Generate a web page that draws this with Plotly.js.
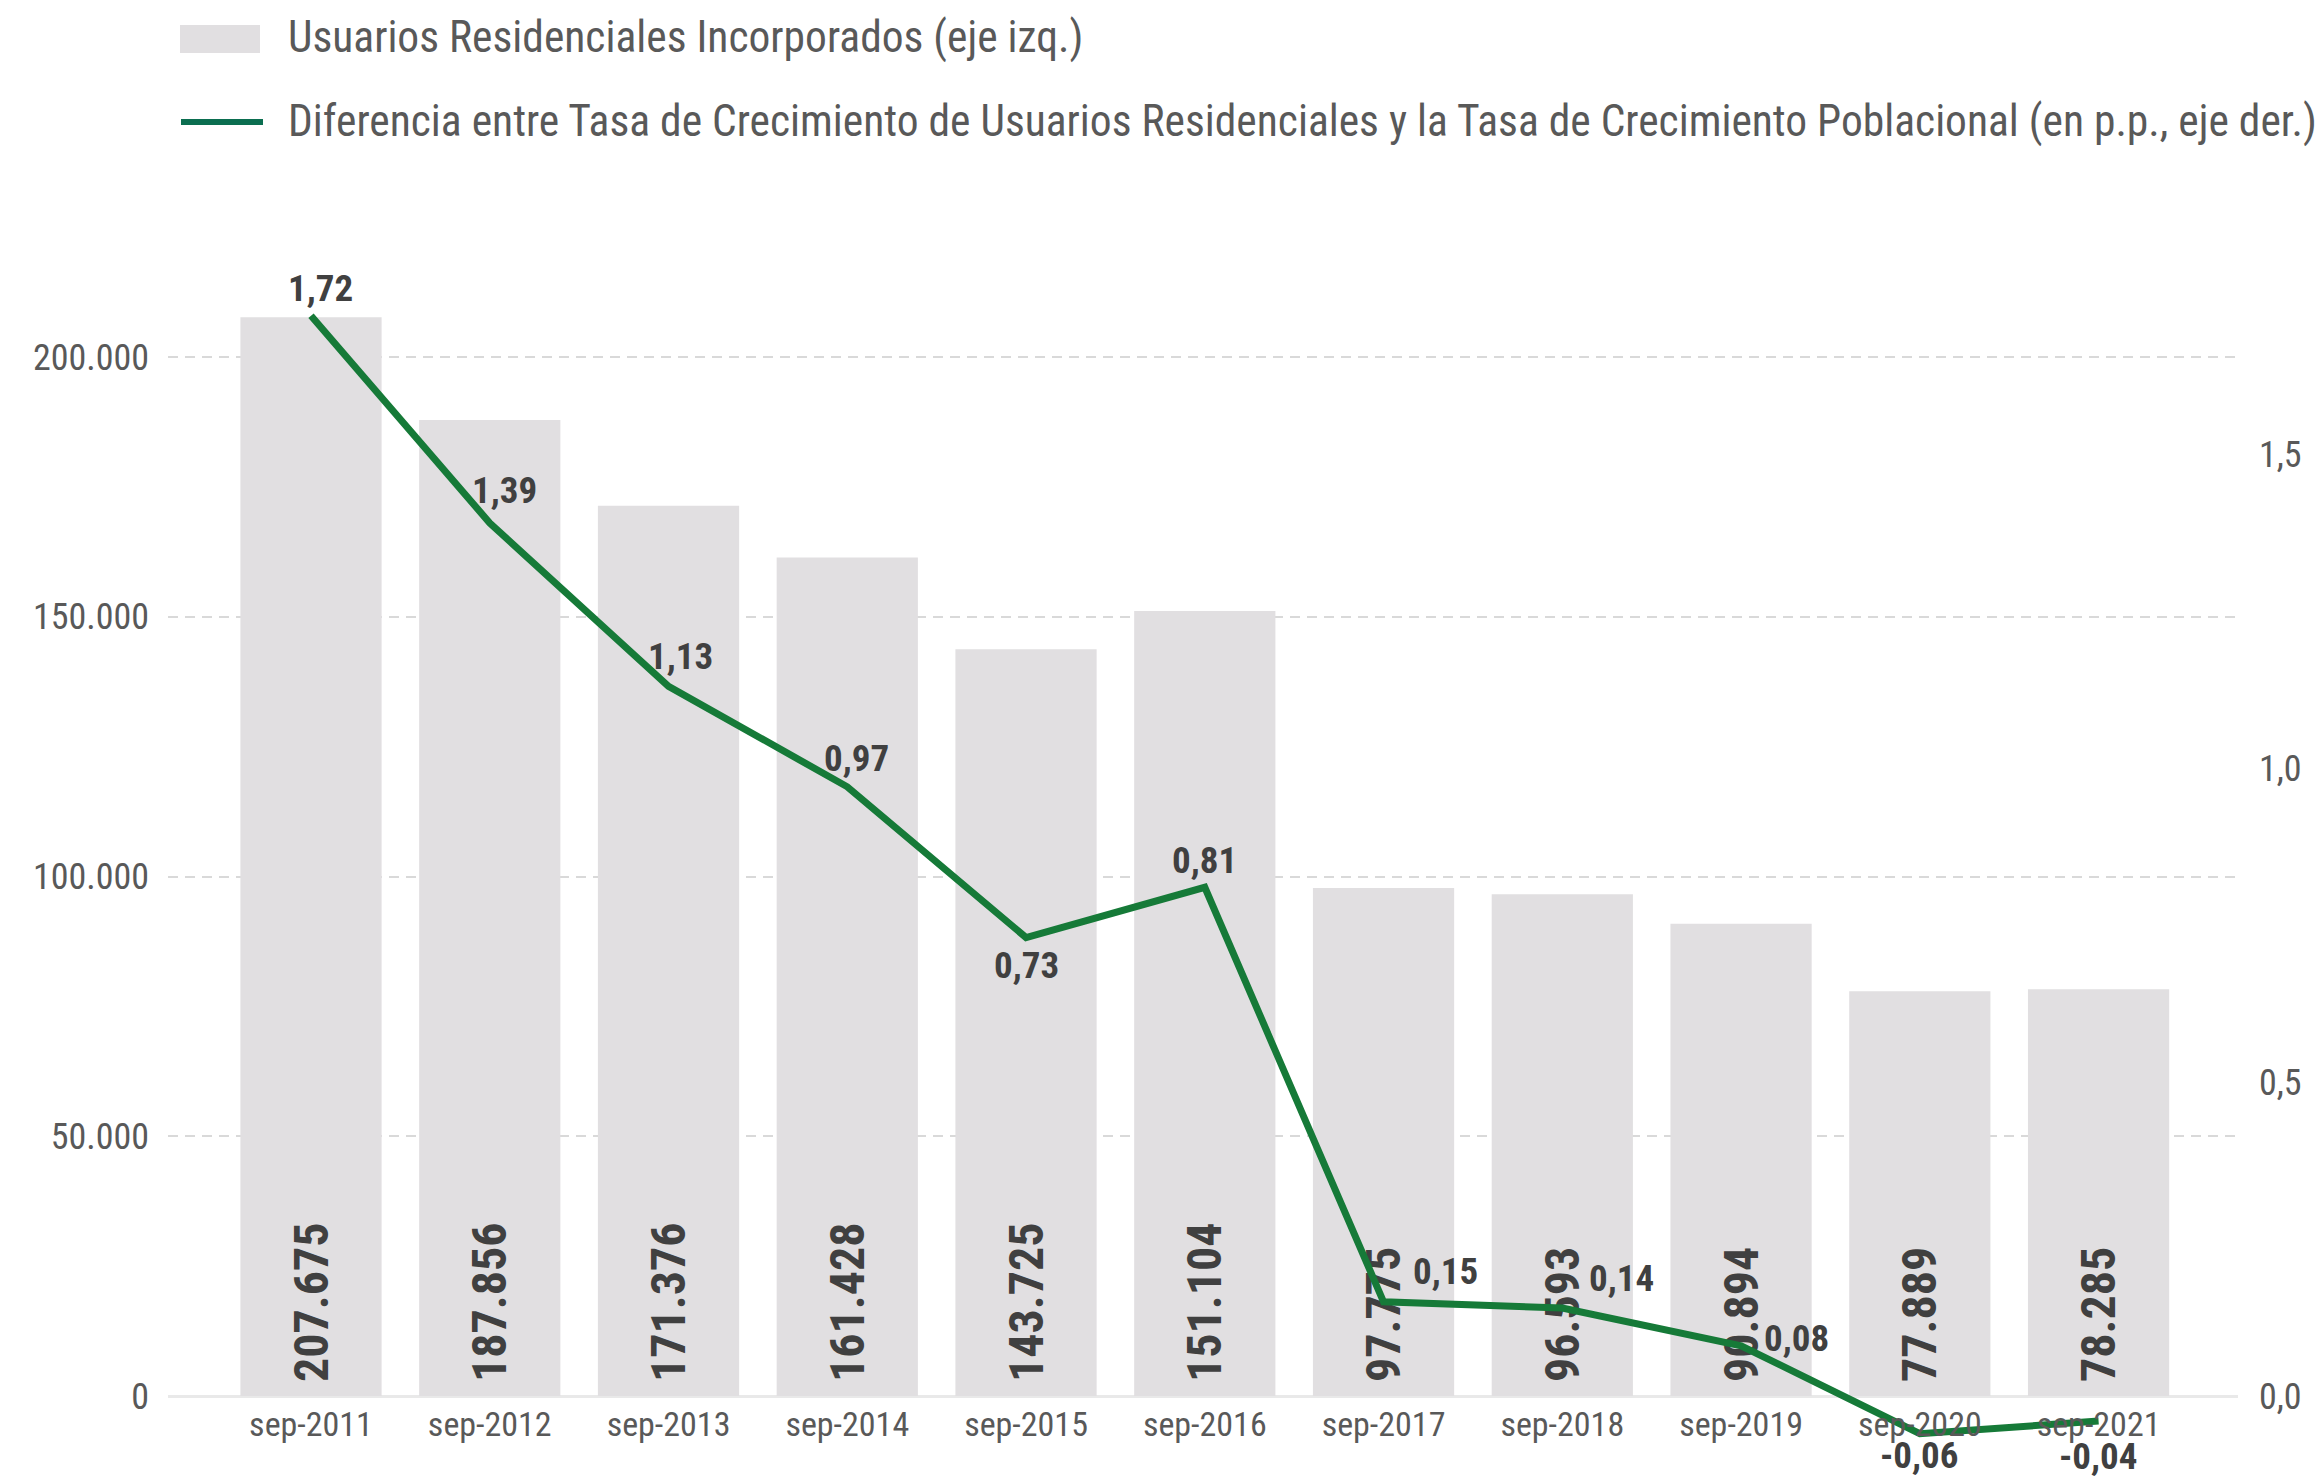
<!DOCTYPE html>
<html>
<head>
<meta charset="utf-8">
<script src="https://cdn.plot.ly/plotly-3.0.1.min.js"></script>
<style>
  html, body { margin: 0; padding: 0; background: #ffffff; }
  #chart { width: 2324px; height: 1479px; }
</style>
</head>
<body>
<div id="chart"></div>
<script>
// ---- Data ----
const categories = ["sep-2011", "sep-2012", "sep-2013", "sep-2014", "sep-2015", "sep-2016",
                    "sep-2017", "sep-2018", "sep-2019", "sep-2020", "sep-2021"];
const usuariosIncorporados = [207675, 187856, 171376, 161428, 143725, 151104,
                              97775, 96593, 90894, 77889, 78285];
const diferenciaTasas = [1.72, 1.39, 1.13, 0.97, 0.73, 0.81, 0.15, 0.14, 0.08, -0.06, -0.04];
const leftTickVals = [0, 50000, 100000, 150000, 200000];
const rightTickVals = [0, 0.5, 1.0, 1.5];
const legendBarName = "Usuarios Residenciales Incorporados (eje izq.)";
const legendLineName = "Diferencia entre Tasa de Crecimiento de Usuarios Residenciales y la Tasa de Crecimiento Poblacional (en p.p., eje der.)";

// ---- Styling ----
// pixel offsets of each line value label relative to its point [dx, dy(up)]
const lineLabelShift = [[9, 27], [15, 33], [12, 30], [9, 28], [0, -28], [0, 27],
                        [62, 30], [59, 30], [55, 7], [0, -22], [0, -35]];
const FONT = "'Roboto Condensed', 'Liberation Sans Narrow', 'DejaVu Sans Condensed', Roboto, sans-serif";
const TEXT_GRAY = "#595959";
const LABEL_DARK = "#404040";
const BAR_COLOR = "#e1dfe1";
const LINE_COLOR = "#167a38";
const LEGEND_LINE_COLOR = "#0b6e50";

const W = 2324, H = 1479;
const M = { l: 168, r: 86, t: 290, b: 29 };
const plotW = W - M.l - M.r, plotH = H - M.t - M.b;
const px2x = px => (px - M.l) / plotW;
const py2y = py => (H - M.b - py) / plotH;

const fmt2 = v => v.toFixed(2).replace(".", ",");

const barTrace = {
  type: "bar",
  x: categories,
  y: usuariosIncorporados,
  name: legendBarName,
  marker: { color: BAR_COLOR },
  width: 0.79,
  texttemplate: "\u00a0%{y:,.0f}",
  textposition: "inside",
  insidetextanchor: "start",
  textangle: -90,
  textfont: { family: FONT, size: 48, weight: 700, color: LABEL_DARK },
  cliponaxis: false,
  hoverinfo: "x+y",
  showlegend: false
};

const lineTrace = {
  type: "scatter",
  mode: "lines",
  x: categories,
  y: diferenciaTasas,
  yaxis: "y2",
  name: legendLineName,
  line: { color: LINE_COLOR, width: 7 },
  cliponaxis: false,
  showlegend: false
};

const valueAnnotations = categories.map((c, i) => ({
  x: c, y: diferenciaTasas[i], xref: "x", yref: "y2",
  text: fmt2(diferenciaTasas[i]),
  showarrow: false,
  xanchor: "center", yanchor: "middle",
  xshift: lineLabelShift[i][0], yshift: lineLabelShift[i][1],
  font: { family: FONT, size: 37, weight: 700, color: LABEL_DARK }
}));

const layout = {
  width: W,
  height: H,
  margin: M,
  paper_bgcolor: "#ffffff",
  plot_bgcolor: "#ffffff",
  separators: ",.",
  showlegend: false,
  font: { family: FONT, color: TEXT_GRAY, size: 33 },
  xaxis: {
    type: "category",
    range: [-0.8, 10.78],
    anchor: "free",
    position: py2y(1396),
    showgrid: false,
    zeroline: false,
    showline: false,
    ticks: "",
    tickfont: { family: FONT, size: 34, color: TEXT_GRAY },
    ticklabelstandoff: 5
  },
  yaxis: {
    range: [-10395, 212897],
    tickvals: leftTickVals,
    tickformat: ",.0f",
    showgrid: true,
    gridcolor: "#d9d9d9",
    gridwidth: 2,
    griddash: "10px,7px",
    zeroline: true,
    zerolinecolor: "#e9e9e9",
    zerolinewidth: 3,
    showline: false,
    ticks: "",
    tickfont: { family: FONT, size: 36, color: TEXT_GRAY },
    ticklabelstandoff: 18
  },
  yaxis2: {
    overlaying: "y",
    side: "right",
    range: [-0.086, 1.761],
    tickvals: rightTickVals,
    tickformat: ".1f",
    showgrid: false,
    zeroline: false,
    showline: false,
    ticks: "",
    tickfont: { family: FONT, size: 36, color: TEXT_GRAY },
    ticklabelstandoff: 20
  },
  shapes: [
    { type: "rect", xref: "paper", yref: "paper",
      x0: px2x(180), x1: px2x(260), y0: py2y(53), y1: py2y(25),
      fillcolor: BAR_COLOR, line: { width: 0 } },
    { type: "line", xref: "paper", yref: "paper",
      x0: px2x(181), x1: px2x(263), y0: py2y(122), y1: py2y(122),
      line: { color: LEGEND_LINE_COLOR, width: 6 } }
  ],
  annotations: [
    { xref: "paper", yref: "paper", x: px2x(286), y: py2y(38),
      xanchor: "left", yanchor: "middle", showarrow: false,
      text: legendBarName, font: { family: FONT, size: 43.5, color: TEXT_GRAY } },
    { xref: "paper", yref: "paper", x: px2x(286), y: py2y(122),
      xanchor: "left", yanchor: "middle", showarrow: false,
      text: legendLineName, font: { family: FONT, size: 43.5, color: TEXT_GRAY } }
  ].concat(valueAnnotations)
};

Plotly.newPlot("chart", [barTrace, lineTrace], layout, { displayModeBar: false, staticPlot: true });
</script>
</body>
</html>
